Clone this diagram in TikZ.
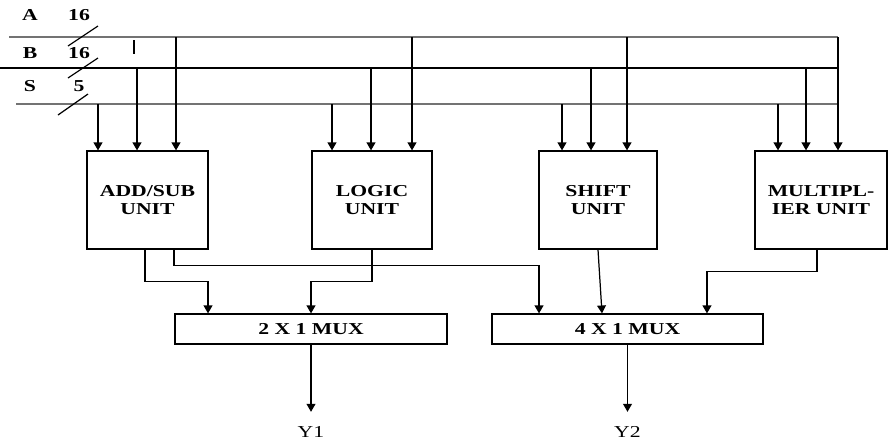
\documentclass[tikz,border=0pt]{standalone}
\usepackage{fontspec}
\setmainfont{Liberation Serif}[FakeStretch=1.3]
\usetikzlibrary{arrows.meta}
\begin{document}
\begin{tikzpicture}[x=0.02cm,y=-0.02cm,line width=0.7pt,
    font=\fontsize{9.5}{10.5}\selectfont\bfseries,
    arr/.style={-{Triangle[width=5pt,length=4.5pt]}},
    unitbox/.style={draw,align=center,minimum width=2.42cm,minimum height=1.96cm,inner sep=0pt},
    muxbox/.style={draw,minimum width=5.44cm,minimum height=0.6cm,inner sep=0pt},
    lbl/.style={inner sep=0pt},
    outlbl/.style={inner sep=0pt,font=\fontsize{9.5}{10.5}\selectfont}]
\useasboundingbox (0,0) rectangle (889,441);
% input buses
\coordinate (busA) at (9,37);
\coordinate (busB) at (0,68);
\coordinate (busS) at (16,104);
\coordinate (busend) at (838,0);
\draw[black!55] (busA) -- (busA -| busend);
\draw (busB) -- (busB -| busend);
\draw[black!55] (busS) -- (busS -| busend);
\foreach \n/\w/\y in {A/16/15,B/16/53,S/5/86}
    \node[lbl] (lbl\n) at (30,\y) {\n} node[lbl] (width\n) at (79,\y) {\w};
\draw (68,46) -- (98,26);
\draw (68,78) -- (98,58);
\draw (58,115) -- (88,94);
\draw[line width=1.2pt] (134,40) -- (134,54);
% units
\node[unitbox] (addsub) at (147.5,200) {ADD/SUB\\UNIT};
\node[unitbox,minimum width=2.4cm] (logic) at (372,200) {LOGIC\\UNIT};
\node[unitbox,minimum width=2.36cm] (shift) at (598,200) {SHIFT\\UNIT};
\node[unitbox,minimum width=2.64cm] (mult) at (821,200) {MULTIPL-\\IER UNIT};
\foreach \b/\xs/\xb/\xa in {addsub/98/137/176,logic/332/371/412,shift/562/591/627,mult/778/806/838}{
    \draw[arr] (\xs,0 |- busS) -- (\xs,0 |- \b.north);
    \draw[arr] (\xb,0 |- busB) -- (\xb,0 |- \b.north);
    \draw[arr] (\xa,0 |- busA) -- (\xa,0 |- \b.north);
}
% multiplexers
\node[muxbox] (mux2) at (311,329) {2 X 1 MUX};
\node[muxbox,minimum width=5.42cm] (mux4) at (627.5,329) {4 X 1 MUX};
\draw[arr] ([xshift=-0.05cm]addsub.south) -- ++(0,32) -| ([xshift=-2.06cm]mux2.north);
\draw[arr] ([xshift=0.53cm]addsub.south) -- ++(0,16) -| ([xshift=-1.77cm]mux4.north);
\draw[arr] (logic.south) -- ++(0,32) -| (mux2.north);
\draw[arr] (shift.south) -- ([xshift=-0.51cm]mux4.north);
\draw[arr] ([xshift=-0.08cm]mult.south) -- ++(0,22) -| ([xshift=1.59cm]mux4.north);
% outputs
\node[outlbl] (y1) at (311,432) {Y1};
\node[outlbl] (y2) at (627.5,432) {Y2};
\draw[arr,shorten >=8pt] (mux2.south) -- (y1.north);
\draw[arr,shorten >=8pt] (mux4.south) -- (y2.north);
\end{tikzpicture}
\end{document}
